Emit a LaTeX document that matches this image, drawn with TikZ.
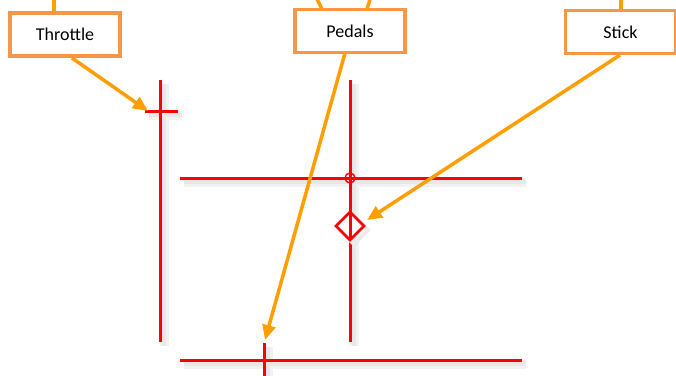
\documentclass[tikz,border=0pt]{standalone}
\usepackage{fontspec}
\setmainfont{Carlito}
\usetikzlibrary{arrows.meta,calc}
\definecolor{boxorange}{HTML}{F79646}
\definecolor{arroworange}{HTML}{FF9E00}
\definecolor{linered}{HTML}{FF0000}
\tikzset{
  label box/.style={draw=boxorange,line width=3.5pt,fill=white,minimum width=110pt,minimum height=43pt,inner sep=0pt,font=\fontsize{18pt}{20pt}\selectfont},
  callout/.style={draw=arroworange,line width=3.5pt,-{Triangle[length=15pt,width=13pt]}},
  stem/.style={draw=arroworange,line width=3.5pt},
  redline/.style={draw=linered,line width=3pt},
  shadowouter/.style={draw=black!5,line width=9pt,shift={(4pt,-4pt)}},
  shadowinner/.style={draw=black!9,line width=4pt,shift={(4pt,-4pt)}},
}
\begin{document}
\begin{tikzpicture}[x=1pt,y=-1pt]
\useasboundingbox (0,0) rectangle (676,375);
% shadows
\foreach \a/\b in {{(160,80)}/{(160,342)},{(350,80)}/{(350,342)},{(180,178)}/{(522,178)},{(180,360)}/{(522,360)},{(145,111)}/{(178,111)},{(264,343)}/{(264,375)}}
  {\path[shadowouter] \a -- \b;}
\foreach \a/\b in {{(160,80)}/{(160,342)},{(350,80)}/{(350,342)},{(180,178)}/{(522,178)},{(180,360)}/{(522,360)},{(145,111)}/{(178,111)},{(264,343)}/{(264,375)}}
  {\path[shadowinner] \a -- \b;}
% red lines
\coordinate (lt) at (160,80); \coordinate (lb) at (160,342);
\coordinate (mt) at (350,80); \coordinate (mb) at (350,342);
\coordinate (hl) at (180,178); \coordinate (hr) at (522,178);
\coordinate (bl) at (180,360); \coordinate (br) at (522,360);
\coordinate (tl) at (145,111); \coordinate (tr) at (178,111);
\coordinate (pt) at (264,343); \coordinate (pb) at (264,376);
\path[redline] (lt) -- (lb);
\path[redline] (mt) -- (mb);
\path[redline] (hl) -- (hr);
\path[redline] (bl) -- (br);
\path[redline] (tl) -- (tr);
\path[redline] (pt) -- (pb);
% circle cross
\node[draw=linered,line width=1.4pt,circle,minimum size=10pt,inner sep=0pt] (cc) at (350,178) {};
% diamond
\coordinate (dc) at (350,226);
\path[draw=black!8,line width=4pt,shift={(4pt,-4pt)}] (336,226) -- (350,212) -- (364,226) -- (350,240) -- cycle;
\path[draw=linered,line width=2.8pt,fill=white] (336,226) -- (350,212) -- (364,226) -- (350,240) -- cycle;
\path[redline] (350,212) -- (350,240);
% boxes
\node[label box] (thr) at (65,34.5) {Throttle};
\node[label box] (ped) at (350,31) {Pedals};
\node[label box] (stk) at (620.5,32) {Stick};
% stems above
\coordinate (s1) at (54,-2);
\coordinate (s2) at (316.5,-2);
\coordinate (s3) at (370.5,-2);
\coordinate (s4) at (621,-2);
\path[stem] (s1) -- (s1 |- thr.north);
\path[stem] (s2) -- (322,9);
\path[stem] (s3) -- (367,9);
\path[stem] (s4) -- (s4 |- stk.north);
% callouts
\coordinate (ta) at (148,111);
\coordinate (pa) at (265,340);
\coordinate (sa) at (367,220);
\path[callout] (72,58) -- (ta);
\path[callout] (345,53) -- (pa);
\path[callout] (620,55) -- (sa);
\end{tikzpicture}
\end{document}
